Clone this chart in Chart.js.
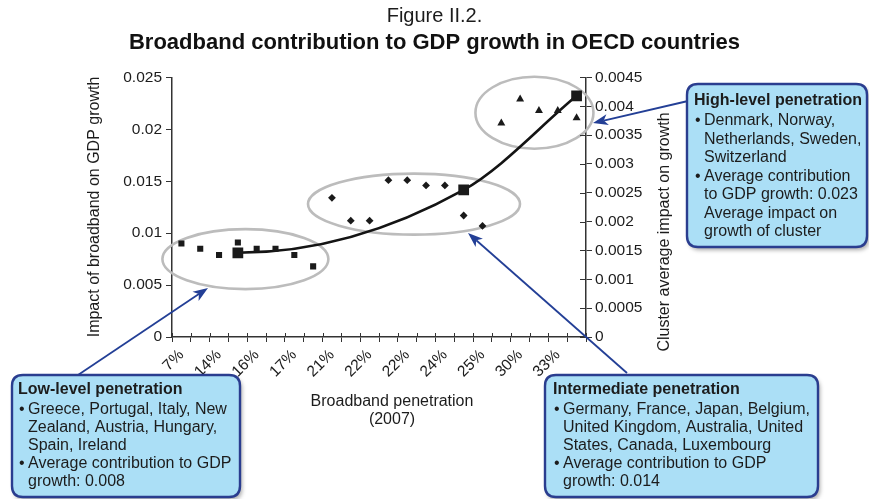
<!DOCTYPE html>
<html>
<head>
<meta charset="utf-8">
<script src="https://cdn.jsdelivr.net/npm/chart.js@4.4.1/dist/chart.umd.min.js"></script>
<style>
  html, body { margin: 0; padding: 0; background: #fff; }
  #wrap { width: 869px; height: 499px; position: relative; }
</style>
</head>
<body>
<div id="wrap"><canvas id="chart"></canvas></div>
<script>
// broadband penetration 2007, one category per country (only every other label is printed)
var penetration = ['7%', '12%', '14%', '15%', '16%', '16%', '17%', '18%', '21%', '21%', '22%',
                   '22%', '22%', '23%', '24%', '24%', '25%', '28%', '30%', '31%', '33%', '35%'];

// impact of broadband on GDP growth, per country
var lowLevel = [0.0090, 0.0085, 0.0079, 0.0091, 0.0085, 0.0085, 0.0079, 0.0068];          // categories 0-7
var intermediate = [0.0134, 0.0112, 0.0112, 0.0151, 0.0151, 0.0146, 0.0146, 0.0117, 0.0107]; // 8-16
var highLevel = [0.0206, 0.0229, 0.0218, 0.0218, 0.0211];                                 // 17-21

// cluster average impact on growth (right axis)
var clusterAverage = [0.00146, 0.00255, 0.00418];
var clusterAt = [3, 15, 21];

var leftTicks = [0, 0.005, 0.01, 0.015, 0.02, 0.025];
var rightTicks = [0, 0.0005, 0.001, 0.0015, 0.002, 0.0025, 0.003, 0.0035, 0.004, 0.0045];

function place(values, start) {
    var out = penetration.map(function () { return null; });
    values.forEach(function (v, i) { out[start + i] = v; });
    return out;
}

function placeAt(values, where) {
    var out = penetration.map(function () { return null; });
    values.forEach(function (v, i) { out[where[i]] = v; });
    return out;
}

function fmt(v) {
    return String(parseFloat(Number(v).toFixed(5)));
}

var FONT = '"Liberation Sans", Arial, sans-serif';
var INK = '#1c1c1c';
var AXIS = '#333333';
var NAVY = '#233f96';

// text boxes and arrows round the chart
var notes = [
    {
        x: 687, y: 84, w: 180, h: 163,
        tail: [688, 101], tip: [593, 123],
        title: 'High-level penetration', tx: 694, ty: 101, first: 121, step: 18.5,
        lines: [['•', 'Denmark, Norway,'], ['', 'Netherlands, Sweden,'], ['', 'Switzerland'],
                ['•', 'Average contribution'], ['', 'to GDP growth: 0.023'], ['', 'Average impact on'],
                ['', 'growth of cluster']]
    },
    {
        x: 12, y: 375, w: 228, h: 122,
        tail: [78, 375], tip: [208, 288],
        title: 'Low-level penetration', tx: 18, ty: 390, first: 410, step: 18,
        lines: [['•', 'Greece, Portugal, Italy, New'], ['', 'Zealand, Austria, Hungary,'],
                ['', 'Spain, Ireland'], ['•', 'Average contribution to GDP'], ['', 'growth: 0.008']]
    },
    {
        x: 545, y: 375, w: 273, h: 122,
        tail: [627, 373], tip: [468, 233],
        title: 'Intermediate penetration', tx: 553, ty: 390, first: 410, step: 18,
        lines: [['•', 'Germany, France, Japan, Belgium,'], ['', 'United Kingdom, Australia, United'],
                ['', 'States, Canada, Luxembourg'], ['•', 'Average contribution to GDP'], ['', 'growth: 0.014']]
    }
];

// grey rings round each cluster (centre in category / value units, radii in px)
var rings = [
    { cat: 3.4, val: 0.0075, rx: 83, ry: 30 },
    { cat: 12.36, val: 0.0128, rx: 106, ry: 30.5 },
    { cat: 18.76, val: 0.0216, rx: 59, ry: 36 }
];

function roundRect(ctx, x, y, w, h, r) {
    ctx.beginPath();
    ctx.moveTo(x + r, y);
    ctx.lineTo(x + w - r, y);
    ctx.quadraticCurveTo(x + w, y, x + w, y + r);
    ctx.lineTo(x + w, y + h - r);
    ctx.quadraticCurveTo(x + w, y + h, x + w - r, y + h);
    ctx.lineTo(x + r, y + h);
    ctx.quadraticCurveTo(x, y + h, x, y + h - r);
    ctx.lineTo(x, y + r);
    ctx.quadraticCurveTo(x, y, x + r, y);
    ctx.closePath();
}

function arrow(ctx, x1, y1, x2, y2) {
    var a = Math.atan2(y2 - y1, x2 - x1);
    var c = Math.cos(a), s = Math.sin(a);
    var len = 15, half = 5.5, notch = 11;
    ctx.strokeStyle = NAVY;
    ctx.fillStyle = NAVY;
    ctx.lineWidth = 1.8;
    ctx.beginPath();
    ctx.moveTo(x1, y1);
    ctx.lineTo(x2 - c * notch, y2 - s * notch);
    ctx.stroke();
    var bx = x2 - c * len, by = y2 - s * len;
    ctx.beginPath();
    ctx.moveTo(x2, y2);
    ctx.lineTo(bx - s * half, by + c * half);
    ctx.lineTo(x2 - c * notch, y2 - s * notch);
    ctx.lineTo(bx + s * half, by - c * half);
    ctx.closePath();
    ctx.fill();
}

var annotations = {
    id: 'annotations',
    beforeDatasetsDraw: function (chart) {
        var ctx = chart.ctx, xs = chart.scales.x, ys = chart.scales.y;
        ctx.save();
        ctx.strokeStyle = '#bcbcbc';
        ctx.lineWidth = 2.6;
        rings.forEach(function (r) {
            ctx.beginPath();
            ctx.ellipse(xs.getPixelForValue(r.cat), ys.getPixelForValue(r.val), r.rx, r.ry, 0, 0, Math.PI * 2);
            ctx.stroke();
        });
        ctx.restore();
    },
    beforeDatasetDraw: function (chart, args) {
        // the trend curve leaves the first cluster point flat, like the original
        var line = args.meta.dataset;
        if (!line || !chart.data.datasets[args.index].showTrend) return;
        line.updateControlPoints(chart.chartArea, 'x');
        var pts = line.points.filter(function (p) { return !p.skip; });
        if (pts.length) pts[0].cp2y = pts[0].y;
    },
    afterDraw: function (chart) {
        var ctx = chart.ctx, xs = chart.scales.x, yr = chart.scales.y1;
        var area = chart.chartArea;
        ctx.save();

        // inner halves of the crossing tick marks
        ctx.strokeStyle = AXIS;
        ctx.lineWidth = 1;
        ctx.beginPath();
        for (var i = 0; i <= penetration.length; i++) {
            var px = Math.round(xs.getPixelForValue(i - 0.5)) + 0.5;
            ctx.moveTo(px, area.bottom);
            ctx.lineTo(px, area.bottom - 4);
        }
        rightTicks.forEach(function (v) {
            var py = Math.round(yr.getPixelForValue(v)) + 0.5;
            ctx.moveTo(area.right, py);
            ctx.lineTo(area.right - 6, py);
        });
        ctx.stroke();

        // axis titles
        ctx.fillStyle = INK;
        ctx.font = '16px ' + FONT;
        ctx.textAlign = 'center';
        ctx.textBaseline = 'middle';
        ctx.save();
        ctx.translate(95, 207);
        ctx.rotate(-Math.PI / 2);
        ctx.fillText('Impact of broadband on GDP growth', 0, 0);
        ctx.restore();
        ctx.save();
        ctx.translate(665, 232);
        ctx.rotate(-Math.PI / 2);
        ctx.fillText('Cluster average impact on growth', 0, 0);
        ctx.restore();
        ctx.fillText('Broadband penetration', 392, 402);
        ctx.fillText('(2007)', 392, 420);

        // arrows then boxes
        notes.forEach(function (n) {
            arrow(ctx, n.tail[0], n.tail[1], n.tip[0], n.tip[1]);
        });
        notes.forEach(function (n) {
            ctx.save();
            ctx.shadowColor = 'rgba(0,0,0,0.35)';
            ctx.shadowBlur = 4;
            ctx.shadowOffsetX = 2;
            ctx.shadowOffsetY = 3;
            roundRect(ctx, n.x, n.y, n.w, n.h, 11);
            ctx.fillStyle = '#abdff6';
            ctx.fill();
            ctx.restore();
            roundRect(ctx, n.x, n.y, n.w, n.h, 11);
            ctx.strokeStyle = '#2a3d8f';
            ctx.lineWidth = 2.4;
            ctx.stroke();

            ctx.fillStyle = INK;
            ctx.textAlign = 'left';
            ctx.textBaseline = 'middle';
            ctx.font = 'bold 16px ' + FONT;
            ctx.fillText(n.title, n.tx, n.ty);
            ctx.font = '16px ' + FONT;
            n.lines.forEach(function (l, k) {
                var ly = n.first + k * n.step;
                if (l[0]) ctx.fillText(l[0], n.tx + 1, ly);
                ctx.fillText(l[1], n.tx + 10, ly);
            });
        });
        ctx.restore();
    }
};

var pointColor = '#1a1a1a';

new Chart(document.getElementById('chart'), {
    type: 'line',
    data: {
        labels: penetration,
        datasets: [
            {
                label: 'Low-level penetration',
                data: place(lowLevel, 0),
                yAxisID: 'y',
                showLine: false,
                pointStyle: 'rect',
                pointRadius: 4.3,
                pointBackgroundColor: pointColor,
                pointBorderWidth: 0
            },
            {
                label: 'Intermediate penetration',
                data: place(intermediate, 8),
                yAxisID: 'y',
                showLine: false,
                pointStyle: 'rectRot',
                pointRadius: 3.9,
                pointBackgroundColor: pointColor,
                pointBorderWidth: 0
            },
            {
                label: 'High-level penetration',
                data: place(highLevel, 17),
                yAxisID: 'y',
                showLine: false,
                pointStyle: 'triangle',
                pointRadius: 4.6,
                pointBackgroundColor: pointColor,
                pointBorderWidth: 0
            },
            {
                label: 'Cluster average',
                data: placeAt(clusterAverage, clusterAt),
                yAxisID: 'y1',
                showTrend: true,
                spanGaps: true,
                borderColor: '#141414',
                borderWidth: 2.6,
                cubicInterpolationMode: 'monotone',
                pointStyle: 'rect',
                pointRadius: 7.6,
                pointBackgroundColor: pointColor,
                pointBorderWidth: 0
            }
        ]
    },
    options: {
        responsive: true,
        maintainAspectRatio: false,
        animation: false,
        events: [],
        layout: { padding: 0 },
        font: { family: FONT },
        plugins: {
            legend: { display: false },
            tooltip: { enabled: false },
            title: {
                display: true,
                text: 'Figure II.2.',
                color: INK,
                font: { family: FONT, size: 20, weight: 'normal' },
                padding: { top: 4, bottom: 0 }
            },
            subtitle: {
                display: true,
                text: 'Broadband contribution to GDP growth in OECD countries',
                color: '#111',
                font: { family: FONT, size: 22, weight: 'bold' },
                padding: { top: 2, bottom: 21 }
            }
        },
        scales: {
            x: {
                type: 'category',
                offset: true,
                grid: { offset: true, drawOnChartArea: false, drawTicks: true, tickLength: 5, color: AXIS },
                border: { color: AXIS, width: 1.5 },
                ticks: {
                    autoSkip: false,
                    maxRotation: 45,
                    minRotation: 45,
                    padding: 4,
                    color: INK,
                    font: { family: FONT, size: 15.5 },
                    callback: function (v, i) { return i % 2 === 0 ? penetration[i] : ''; }
                },
                afterFit: function (s) { s.height = 162; }
            },
            y: {
                position: 'left',
                min: 0,
                max: 0.025,
                grid: { drawOnChartArea: false, tickLength: 6, color: AXIS },
                border: { color: AXIS, width: 1.5 },
                afterBuildTicks: function (s) { s.ticks = leftTicks.map(function (v) { return { value: v }; }); },
                ticks: {
                    padding: 4,
                    color: INK,
                    font: { family: FONT, size: 15.5 },
                    callback: fmt
                },
                afterFit: function (s) { s.width = 172; }
            },
            y1: {
                position: 'right',
                min: 0,
                max: 0.0045,
                grid: { drawOnChartArea: false, tickLength: 6, color: AXIS },
                border: { color: AXIS, width: 1.5 },
                afterBuildTicks: function (s) { s.ticks = rightTicks.map(function (v) { return { value: v }; }); },
                ticks: {
                    padding: 3,
                    color: INK,
                    font: { family: FONT, size: 15.5 },
                    callback: fmt
                },
                afterFit: function (s) { s.width = 283; }
            }
        }
    },
    plugins: [annotations]
});
</script>
</body>
</html>
